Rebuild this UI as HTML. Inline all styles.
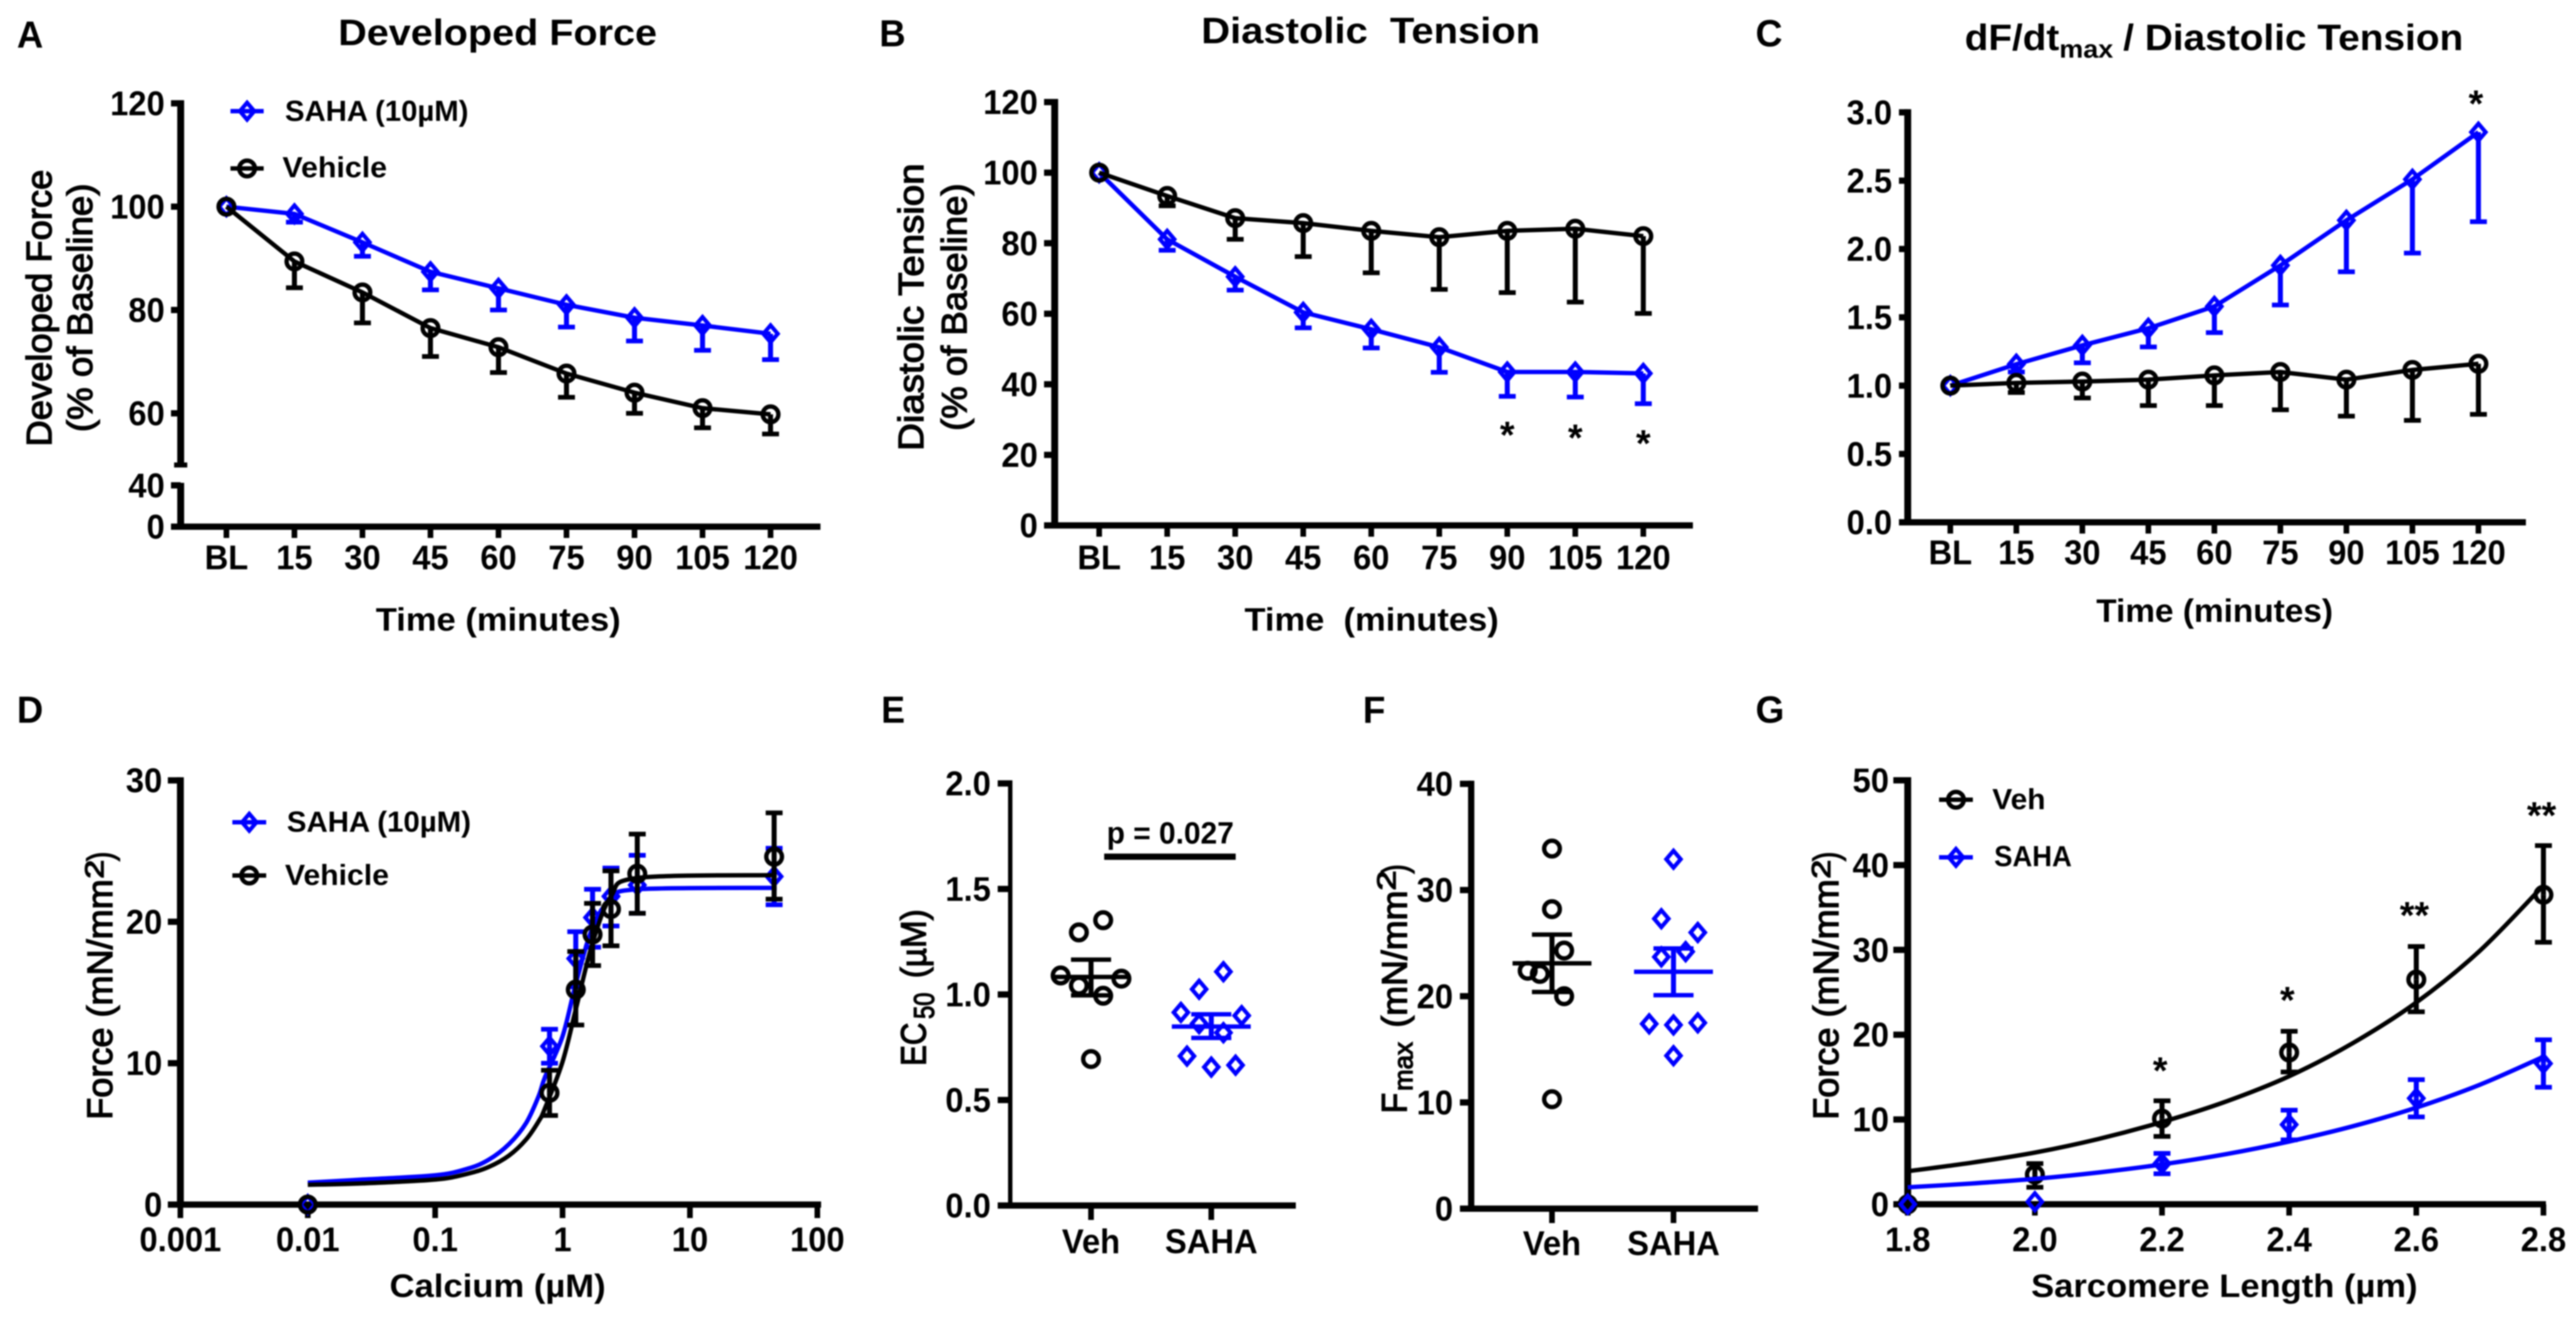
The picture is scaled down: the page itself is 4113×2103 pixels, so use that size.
<!DOCTYPE html>
<html lang="en">
<head>
<meta charset="utf-8">
<title>SAHA contractility figure</title>
<style>
html,body{margin:0;padding:0;background:#fff;width:4113px;height:2103px;overflow:hidden}
svg{display:block;filter:blur(1px)}
text{font-family:"Liberation Sans",Arial,sans-serif;font-weight:700;fill:#000}
text.rot{font-weight:400;stroke:#000;stroke-width:1.8px}
</style>
</head>
<body>
<svg id="fig" xmlns="http://www.w3.org/2000/svg" width="4113" height="2103" viewBox="0 0 4113 2103">
<rect x="0" y="0" width="4113" height="2103" fill="#fff"/>

<!-- Panel letters -->
<text x="27" y="76" font-size="60" textLength="42" lengthAdjust="spacingAndGlyphs">A</text>
<text x="1404" y="74" font-size="60" textLength="42" lengthAdjust="spacingAndGlyphs">B</text>
<text x="2803" y="74" font-size="60" textLength="43" lengthAdjust="spacingAndGlyphs">C</text>
<text x="27" y="1154" font-size="60" textLength="42" lengthAdjust="spacingAndGlyphs">D</text>
<text x="1407" y="1154" font-size="60" textLength="38" lengthAdjust="spacingAndGlyphs">E</text>
<text x="2176" y="1154" font-size="60" textLength="36" lengthAdjust="spacingAndGlyphs">F</text>
<text x="2803" y="1154" font-size="60" textLength="46" lengthAdjust="spacingAndGlyphs">G</text>

<!-- Titles -->
<text x="540" y="72" font-size="58" textLength="509" lengthAdjust="spacingAndGlyphs">Developed Force</text>
<text x="1918" y="69" font-size="58" textLength="541" lengthAdjust="spacingAndGlyphs">Diastolic&#160; Tension</text>
<text x="3137" y="80" font-size="58" textLength="151" lengthAdjust="spacingAndGlyphs">dF/dt</text>
<text x="3288" y="92" font-size="40" textLength="86" lengthAdjust="spacingAndGlyphs">max</text>
<text x="3390" y="80" font-size="58" textLength="543" lengthAdjust="spacingAndGlyphs">/ Diastolic Tension</text>

<!-- Y axis titles -->
<text class="rot" transform="translate(82,713) rotate(-90)" font-size="57" textLength="442" lengthAdjust="spacingAndGlyphs">Developed Force</text>
<text class="rot" transform="translate(147,690) rotate(-90)" font-size="57" textLength="397" lengthAdjust="spacingAndGlyphs">(% of Baseline)</text>
<text class="rot" transform="translate(1474,720) rotate(-90)" font-size="57" textLength="459" lengthAdjust="spacingAndGlyphs">Diastolic Tension</text>
<text class="rot" transform="translate(1543,688) rotate(-90)" font-size="57" textLength="395" lengthAdjust="spacingAndGlyphs">(% of Baseline)</text>

<text class="rot" transform="translate(179,1788) rotate(-90)" font-size="57" textLength="384" lengthAdjust="spacingAndGlyphs">Force (mN/mm</text>
<text class="rot" transform="translate(165,1403) rotate(-90)" font-size="42" textLength="30" lengthAdjust="spacingAndGlyphs">2</text>
<text class="rot" transform="translate(179,1375) rotate(-90)" font-size="57" textLength="15" lengthAdjust="spacingAndGlyphs">)</text>

<text class="rot" transform="translate(1478,1702) rotate(-90)" font-size="57" textLength="69" lengthAdjust="spacingAndGlyphs">EC</text>
<text class="rot" transform="translate(1491,1627) rotate(-90)" font-size="45" textLength="42" lengthAdjust="spacingAndGlyphs">50</text>
<text class="rot" transform="translate(1478,1562) rotate(-90)" font-size="57" textLength="110" lengthAdjust="spacingAndGlyphs">(µM)</text>

<text class="rot" transform="translate(2246,1778) rotate(-90)" font-size="57" textLength="33" lengthAdjust="spacingAndGlyphs">F</text>
<text class="rot" transform="translate(2255,1742) rotate(-90)" font-size="42" textLength="78" lengthAdjust="spacingAndGlyphs">max</text>
<text class="rot" transform="translate(2246,1641) rotate(-90)" font-size="57" textLength="219" lengthAdjust="spacingAndGlyphs">(mN/mm</text>
<text class="rot" transform="translate(2228,1422) rotate(-90)" font-size="42" textLength="32" lengthAdjust="spacingAndGlyphs">2</text>
<text class="rot" transform="translate(2246,1395) rotate(-90)" font-size="57" textLength="15" lengthAdjust="spacingAndGlyphs">)</text>

<text class="rot" transform="translate(2935,1788) rotate(-90)" font-size="57" textLength="384" lengthAdjust="spacingAndGlyphs">Force (mN/mm</text>
<text class="rot" transform="translate(2922,1403) rotate(-90)" font-size="42" textLength="30" lengthAdjust="spacingAndGlyphs">2</text>
<text class="rot" transform="translate(2935,1375) rotate(-90)" font-size="57" textLength="15" lengthAdjust="spacingAndGlyphs">)</text>

<!-- X axis titles -->
<text x="600" y="1007" font-size="52" textLength="391" lengthAdjust="spacingAndGlyphs">Time (minutes)</text>
<text x="1987" y="1007" font-size="52" textLength="406" lengthAdjust="spacingAndGlyphs">Time&#160; (minutes)</text>
<text x="3347" y="993" font-size="52" textLength="378" lengthAdjust="spacingAndGlyphs">Time (minutes)</text>
<text x="622" y="2071" font-size="52" textLength="345" lengthAdjust="spacingAndGlyphs">Calcium (µM)</text>
<text x="3243" y="2071" font-size="52" textLength="617" lengthAdjust="spacingAndGlyphs">Sarcomere Length (µm)</text>

<!-- Legend text -->
<text x="455" y="193" font-size="46" textLength="293" lengthAdjust="spacingAndGlyphs">SAHA (10µM)</text>
<text x="451" y="283" font-size="46" textLength="167" lengthAdjust="spacingAndGlyphs">Vehicle</text>
<text x="458" y="1328" font-size="46" textLength="294" lengthAdjust="spacingAndGlyphs">SAHA (10µM)</text>
<text x="455" y="1413" font-size="46" textLength="166" lengthAdjust="spacingAndGlyphs">Vehicle</text>
<text x="3181" y="1292" font-size="46" textLength="85" lengthAdjust="spacingAndGlyphs">Veh</text>
<text x="3184" y="1383" font-size="46" textLength="124" lengthAdjust="spacingAndGlyphs">SAHA</text>

<!-- Significance annotation -->
<text x="1767" y="1347" font-size="49" textLength="203" lengthAdjust="spacingAndGlyphs">p = 0.027</text>
<rect x="1763" y="1363" width="210" height="10" fill="#000"/>

<g id="plots"></g>
</svg>

<script>
// ---------- Shared categories ----------
const timeLabels = ['BL','15','30','45','60','75','90','105','120'];
const scatterLabels = ['Veh','SAHA'];

// ---------- Panel A ----------
const aTicksUpper = [60,80,100,120];
const aTicksLower = [0,40];
const aSahaMean = [100,98.6,93.1,87.4,84.2,81,78.5,77,75.4];
const aSahaLow  = [100,97,90.4,83.9,80,76.7,74,72.2,70.4];
const aVehMean  = [100,89.4,83.4,76.5,72.8,67.7,64,61,59.8];
const aVehLow   = [100,84.3,77.5,71,67.9,63.1,60,57.2,56];

// ---------- Panel B ----------
const bTicks = [0,20,40,60,80,100,120];
const bSahaMean = [100,81.1,70.5,60.4,55.6,50.5,43.5,43.5,43.1];
const bSahaLow  = [100,78,66.7,56,50.3,43.4,36.6,36.4,34.5];
const bVehMean  = [100,93.4,87.1,85.7,83.5,81.7,83.5,84.1,82];
const bVehLow   = [100,90.6,81.1,76.2,71.6,66.9,66,63.3,60.1];
const bStarIndex = [6,7,8];
const bStarValue = [27.9,27.1,25.5];

// ---------- Panel C ----------
const cTicks = [0,0.5,1,1.5,2,2.5,3];
const cSahaMean = [1,1.157,1.295,1.42,1.58,1.88,2.21,2.51,2.855];
const cSahaLow  = [1,1.1,1.167,1.283,1.388,1.59,1.833,1.97,2.2];
const cVehMean  = [1,1.02,1.03,1.044,1.075,1.1,1.044,1.115,1.16];
const cVehLow   = [1,0.95,0.91,0.854,0.854,0.823,0.777,0.746,0.79];
const cStarIndex = [8];
const cStarValue = [3.12];

// ---------- Panel D ----------
const dTicksY = [0,10,20,30];
const dTicksX = [0.001,0.01,0.1,1,10,100];
const dTickLabelsX = ['0.001','0.01','0.1','1','10','100'];
const dCalcium  = [0.01,0.79,1.27,1.72,2.4,3.86,45.8];
const dSahaMean = [0,11.2,17.4,20.3,21.8,22.6,23.2];
const dSahaHigh = [0,12.4,19.3,22.3,23.8,24.7,25.2];
const dSahaLow  = [0,10,15.4,18.2,19.7,20.6,21.2];
const dVehMean  = [0,7.9,15.2,19.1,20.9,23.4,24.6];
const dVehHigh  = [0,9.5,17.9,21.3,23.6,26.2,27.7];
const dVehLow   = [0,6.3,12.7,16.9,18.3,20.6,21.6];
const dCurveCa   = [0.01,0.027,0.1,0.18,0.263,0.38,0.517,0.65,0.727,1,1.27,1.72,2.4,3.9,48];
const dCurveSaha = [1.55,1.77,2.07,2.54,3.17,4.28,5.76,7.68,9,11.9,15.6,19.6,21.6,22.3,22.4];
const dCurveVeh  = [1.4,1.5,1.77,2.18,2.66,3.47,4.6,5.9,6.8,10.1,13.8,18.5,21.8,23.1,23.3];

// ---------- Panel E ----------
const eTicks = [0,0.5,1,1.5,2];
const eVehValues  = [1.352,1.294,1.09,1.075,1.042,0.994,0.694];
const eVehSlots   = [1,-1,-2.5,2.5,-1,1,0];
const eVehSummary = [1.083,1.165,0.996];
const eSahaValues = [1.108,1.025,0.915,0.9,0.862,0.819,0.708,0.656,0.665];
const eSahaSlots  = [1,-1,-2.5,2.5,-1,1,-2,0,2];
const eSahaSummary = [0.848,0.906,0.794];

// ---------- Panel F ----------
const fTicks = [0,10,20,30,40];
const fVehValues  = [33.9,28.2,24.3,22.4,22.1,20,10.3];
const fVehSlots   = [0,0,1,-2,-1,1,0];
const fVehSummary = [23.1,25.8,20.4];
const fSahaValues = [32.9,27.3,26,24.2,23.7,17.4,17.3,17.5,14.4];
const fSahaSlots  = [0,-1,2,1,-1,-2,0,2,0];
const fSahaSummary = [22.3,24.5,20.1];

// ---------- Panel G ----------
const gTicksY = [0,10,20,30,40,50];
const gTicksX = [1.8,2,2.2,2.4,2.6,2.8];
const gTickLabelsX = ['1.8','2.0','2.2','2.4','2.6','2.8'];
const gLength   = [1.8,2,2.2,2.4,2.6,2.8];
const gVehMean  = [0,3.5,10.1,17.9,26.5,36.5];
const gVehHigh  = [0,4.8,12.2,20.4,30.4,42.3];
const gVehLow   = [0,2,8,15.6,22.7,30.9];
const gSahaMean = [0,0.3,4.8,9.4,12.5,16.6];
const gSahaHigh = [0,0.3,6,11.1,14.7,19.4];
const gSahaLow  = [0,0.3,3.6,7.6,10.3,13.8];
const gCurveLen  = [1.8,1.9,2,2.1,2.2,2.3,2.4,2.5,2.6,2.7,2.8];
const gCurveVeh  = [3.9,4.9,6.1,7.7,9.7,12.1,15.1,19,23.8,29.9,37.6];
const gCurveSaha = [2,2.45,3,3.75,4.7,5.9,7.4,9.2,11.4,14.1,17.4];
const gStarLen   = [2.2,2.4,2.6,2.8];
const gStarValue = [16.7,25,35,46.8];
const gStarLabel = ['*','*','**','**'];

// ---------- Helpers ----------
const NS = 'http://www.w3.org/2000/svg';
const BLUE = '#0000ff';
const BLACK = '#000000';
const plots = document.getElementById('plots');

function add(parent, tag, attrs, name) {
  const el = document.createElementNS(NS, tag);
  for (const k in attrs) el.setAttribute(k, attrs[k]);
  
  
  parent.appendChild(el);
  return el;
}
function seg(parent, x1, y1, x2, y2, color, w, name) {
  return add(parent, 'line', {x1, y1, x2, y2, stroke: color, 'stroke-width': w}, name);
}
function label(parent, x, y, str, anchor, name) {
  const t = add(parent, 'text', {transform: 'translate(' + x + ',' + y + ') scale(0.95,1)', 'font-size': 55, 'text-anchor': anchor}, name);
  t.textContent = str;
  return t;
}
function marker(parent, kind, x, y, color, name) {
  if (kind === 'circle') {
    return add(parent, 'circle', {cx: x, cy: y, r: 12.5, fill: 'none', stroke: color, 'stroke-width': 7}, name);
  }
  const p = (x - 11.5) + ',' + y + ' ' + x + ',' + (y - 13.5) + ' ' + (x + 11.5) + ',' + y + ' ' + x + ',' + (y + 13.5);
  return add(parent, 'polygon', {points: p, fill: 'none', stroke: color, 'stroke-width': 6.5}, name);
}
function errorBar(parent, x, yFrom, yTo, color, name) {
  seg(parent, x, yFrom, x, yTo, color, 8, name + '-stem');
  seg(parent, x - 13.5, yTo, x + 13.5, yTo, color, 7.5, name + '-cap');
}
function smooth(parent, pts, color, name) {
  let d = 'M' + pts[0][0] + ' ' + pts[0][1];
  for (let i = 0; i < pts.length - 1; i++) {
    const p0 = pts[Math.max(i - 1, 0)], p1 = pts[i], p2 = pts[i + 1], p3 = pts[Math.min(i + 2, pts.length - 1)];
    const c1x = p1[0] + (p2[0] - p0[0]) / 6, c1y = p1[1] + (p2[1] - p0[1]) / 6;
    const c2x = p2[0] - (p3[0] - p1[0]) / 6, c2y = p2[1] - (p3[1] - p1[1]) / 6;
    d += ' C' + c1x + ' ' + c1y + ' ' + c2x + ' ' + c2y + ' ' + p2[0] + ' ' + p2[1];
  }
  return add(parent, 'path', {d, fill: 'none', stroke: color, 'stroke-width': 7}, name);
}
function star(parent, x, yCenter, str, name) {
  const t = add(parent, 'text', {x: x, y: yCenter + 33, 'font-size': 60, 'text-anchor': 'middle'}, name);
  t.textContent = str;
}
function legendEntry(parent, x1, x2, y, kind, color, name) {
  seg(parent, x1, y, x2, y, color, 7, name + '-line');
  marker(parent, kind, (x1 + x2) / 2, y, color, name + '-marker');
}

function yAxis(g, axisX, tickLeft, labelRight, ticks, yf, fmt, topV, botY, name, axisW) {
  seg(g, axisX, yf(topV) - 5, axisX, botY + 5, BLACK, axisW || 11, name + '-line');
  ticks.forEach(function (v) {
    seg(g, tickLeft, yf(v), axisX, yf(v), BLACK, 10, name + '-tick');
    label(g, labelRight, yf(v) + 19, fmt(v), 'end', name + '-tick-label');
  });
}
function xAxisBase(g, x1, x2, y, name) {
  seg(g, x1, y, x2, y, BLACK, 10, name + '-line');
}

// Time-course panels (one-sided error bars)
function timeSeries(g, xf, yf, mean, low, color, kind, name) {
  const sg = add(g, 'g', {}, name);
  const pts = mean.map(function (v, i) { return xf(i) + ',' + yf(v); }).join(' ');
  mean.forEach(function (v, i) {
    if (low[i] !== v) errorBar(sg, xf(i), yf(v), yf(low[i]), color, name + '-error-bar');
  });
  add(sg, 'polyline', {points: pts, fill: 'none', stroke: color, 'stroke-width': 7}, name + '-line');
  mean.forEach(function (v, i) {
    marker(sg, kind, xf(i), yf(v), color, name + '-point');
  });
}
function xCategoryAxis(g, xf, labels, y, labelY, name) {
  labels.forEach(function (s, i) {
    seg(g, xf(i), y, xf(i), y + 18, BLACK, 9, name + '-tick');
    label(g, xf(i), labelY, s, 'middle', name + '-tick-label');
  });
}

// ---------- Draw A ----------
(function () {
  const g = add(plots, 'g', {}, 'chart-a-developed-force');
  const xf = function (i) { return 361.5 + i * 108.6; };
  const yf = function (v) { return v >= 50 ? 330 + (100 - v) * 8.25 : 841 - v * 1.65; };
  const axisX = 288.5;
  seg(g, axisX, yf(120) - 5, axisX, yf(50), BLACK, 11, 'y-axis-a-upper-line');
  seg(g, axisX, yf(40) - 4, axisX, 841, BLACK, 11, 'y-axis-a-lower-line');
  seg(g, 278, yf(50), 299, yf(50), BLACK, 8, 'y-axis-a-break-cap');
  aTicksUpper.concat(aTicksLower).forEach(function (v) {
    seg(g, 273, yf(v), axisX, yf(v), BLACK, 10, 'y-axis-a-tick');
    label(g, 263, yf(v) + 19, String(v), 'end', 'y-axis-a-tick-label');
  });
  xAxisBase(g, 273, 1310, 841, 'x-axis-a');
  xCategoryAxis(g, xf, timeLabels, 841, 909, 'x-axis-a');
  timeSeries(g, xf, yf, aSahaMean, aSahaLow, BLUE, 'diamond', 'series-a-saha');
  timeSeries(g, xf, yf, aVehMean, aVehLow, BLACK, 'circle', 'series-a-vehicle');
  legendEntry(g, 368, 421, 177.5, 'diamond', BLUE, 'legend-a-saha');
  legendEntry(g, 368, 421, 269, 'circle', BLACK, 'legend-a-vehicle');
})();

// ---------- Draw B ----------
(function () {
  const g = add(plots, 'g', {}, 'chart-b-diastolic-tension');
  const xf = function (i) { return 1755 + i * 108.6; };
  const yf = function (v) { return 839 - v * 5.633; };
  yAxis(g, 1684, 1667, 1657, bTicks, yf, String, 120, 839, 'y-axis-b');
  xAxisBase(g, 1667, 2703, 839, 'x-axis-b');
  xCategoryAxis(g, xf, timeLabels, 839, 909, 'x-axis-b');
  timeSeries(g, xf, yf, bSahaMean, bSahaLow, BLUE, 'diamond', 'series-b-saha');
  timeSeries(g, xf, yf, bVehMean, bVehLow, BLACK, 'circle', 'series-b-vehicle');
  bStarIndex.forEach(function (idx, k) {
    star(g, xf(idx), yf(bStarValue[k]), '*', 'significance-star-b');
  });
})();

// ---------- Draw C ----------
(function () {
  const g = add(plots, 'g', {}, 'chart-c-dfdt-ratio');
  const xf = function (i) { return 3114 + i * 105.4; };
  const yf = function (v) { return 834 - v * 218.2; };
  yAxis(g, 3046, 3032, 3021, cTicks, yf, function (v) { return v.toFixed(1); }, 3, 834, 'y-axis-c');
  xAxisBase(g, 3032, 4033, 834, 'x-axis-c');
  xCategoryAxis(g, xf, timeLabels, 834, 901, 'x-axis-c');
  timeSeries(g, xf, yf, cSahaMean, cSahaLow, BLUE, 'diamond', 'series-c-saha');
  timeSeries(g, xf, yf, cVehMean, cVehLow, BLACK, 'circle', 'series-c-vehicle');
  cStarIndex.forEach(function (idx, k) {
    star(g, xf(idx) - 4, yf(cStarValue[k]), '*', 'significance-star-c');
  });
})();

// ---------- Draw D ----------
(function () {
  const g = add(plots, 'g', {}, 'chart-d-calcium-response');
  const xf = function (c) { return 288 + (Math.log10(c) + 3) * 203.4; };
  const yf = function (v) { return 1923.5 - v * 22.58; };
  yAxis(g, 288, 268, 259, dTicksY, yf, String, 30, 1923.5, 'y-axis-d');
  xAxisBase(g, 282, 1311, 1923.5, 'x-axis-d');
  dTicksX.forEach(function (c, i) {
    seg(g, xf(c), 1923.5, xf(c), 1945, BLACK, 9, 'x-axis-d-tick');
    label(g, xf(c), 1998, dTickLabelsX[i], 'middle', 'x-axis-d-tick-label');
  });
  function series(mean, high, low, curve, color, kind, name) {
    const sg = add(g, 'g', {}, name);
    smooth(sg, dCurveCa.map(function (c, i) { return [xf(c), yf(curve[i])]; }), color, name + '-fit-curve');
    dCalcium.forEach(function (c, i) {
      if (high[i] !== low[i]) {
        errorBar(sg, xf(c), yf(mean[i]), yf(high[i]), color, name + '-error-bar-upper');
        errorBar(sg, xf(c), yf(mean[i]), yf(low[i]), color, name + '-error-bar-lower');
      }
      marker(sg, kind, xf(c), yf(mean[i]), color, name + '-point');
    });
  }
  series(dSahaMean, dSahaHigh, dSahaLow, dCurveSaha, BLUE, 'diamond', 'series-d-saha');
  series(dVehMean, dVehHigh, dVehLow, dCurveVeh, BLACK, 'circle', 'series-d-vehicle');
  legendEntry(g, 371, 425, 1313, 'diamond', BLUE, 'legend-d-saha');
  legendEntry(g, 371, 425, 1398, 'circle', BLACK, 'legend-d-vehicle');
})();

// ---------- Scatter panels E & F ----------
function scatterPanel(cfg) {
  const g = add(plots, 'g', {}, cfg.name);
  yAxis(g, cfg.axisX, cfg.tickLeft, cfg.labelRight, cfg.ticks, cfg.yf, cfg.fmt, cfg.top, cfg.baseY, cfg.short + '-y-axis', cfg.axisW);
  xAxisBase(g, cfg.tickLeft, cfg.axisEnd, cfg.baseY, cfg.short + '-x-axis');
  scatterLabels.forEach(function (s, i) {
    seg(g, cfg.xs[i], cfg.baseY, cfg.xs[i], cfg.baseY + 23, BLACK, 9, cfg.short + '-x-axis-tick');
    label(g, cfg.xs[i], cfg.labelY, s, 'middle', cfg.short + '-x-axis-tick-label');
  });
  function group(xc, values, slots, summary, color, kind, name) {
    const sg = add(g, 'g', {}, name);
    values.forEach(function (v, i) {
      marker(sg, kind, xc + slots[i] * 19.4, cfg.yf(v), color, name + '-point');
    });
    seg(sg, xc - 63, cfg.yf(summary[0]), xc + 63, cfg.yf(summary[0]), color, 7, name + '-mean-line');
    seg(sg, xc, cfg.yf(summary[1]), xc, cfg.yf(summary[2]), color, 8, name + '-sem-stem');
    seg(sg, xc - 32, cfg.yf(summary[1]), xc + 32, cfg.yf(summary[1]), color, 7, name + '-sem-cap-upper');
    seg(sg, xc - 32, cfg.yf(summary[2]), xc + 32, cfg.yf(summary[2]), color, 7, name + '-sem-cap-lower');
  }
  group(cfg.xs[0], cfg.veh, cfg.vehSlots, cfg.vehSummary, BLACK, 'circle', cfg.short + '-veh');
  group(cfg.xs[1], cfg.saha, cfg.sahaSlots, cfg.sahaSummary, BLUE, 'diamond', cfg.short + '-saha');
}
scatterPanel({
  name: 'chart-e-ec50', short: 'e', axisX: 1613, axisW: 7, tickLeft: 1593, labelRight: 1582, axisEnd: 2069, baseY: 1925, labelY: 2001,
  ticks: eTicks, top: 2, xs: [1742, 1934],
  yf: function (v) { return 1925 - v * 337; },
  fmt: function (v) { return v.toFixed(1); },
  veh: eVehValues, vehSlots: eVehSlots, vehSummary: eVehSummary,
  saha: eSahaValues, sahaSlots: eSahaSlots, sahaSummary: eSahaSummary
});
scatterPanel({
  name: 'chart-f-fmax', short: 'f', axisX: 2349, axisW: 10, tickLeft: 2331, labelRight: 2320, axisEnd: 2807, baseY: 1930, labelY: 2004,
  ticks: fTicks, top: 40, xs: [2478, 2672],
  yf: function (v) { return 1930 - v * 16.96; },
  fmt: String,
  veh: fVehValues, vehSlots: fVehSlots, vehSummary: fVehSummary,
  saha: fSahaValues, sahaSlots: fSahaSlots, sahaSummary: fSahaSummary
});

// ---------- Draw G ----------
(function () {
  const g = add(plots, 'g', {}, 'chart-g-sarcomere-length');
  const xf = function (l) { return 3046 + (l - 1.8) * 1015; };
  const yf = function (v) { return 1923 - v * 13.54; };
  yAxis(g, 3046, 3023, 3016, gTicksY, yf, String, 50, 1923, 'y-axis-g');
  xAxisBase(g, 3023, 4065, 1923, 'x-axis-g');
  gTicksX.forEach(function (l, i) {
    seg(g, xf(l), 1923, xf(l), 1941, BLACK, 9, 'x-axis-g-tick');
    label(g, xf(l), 1998, gTickLabelsX[i], 'middle', 'x-axis-g-tick-label');
  });
  function series(mean, high, low, curve, color, kind, name) {
    const sg = add(g, 'g', {}, name);
    smooth(sg, gCurveLen.map(function (l, i) { return [xf(l), yf(curve[i])]; }), color, name + '-fit-curve');
    gLength.forEach(function (l, i) {
      if (high[i] !== low[i]) {
        errorBar(sg, xf(l), yf(mean[i]), yf(high[i]), color, name + '-error-bar-upper');
        errorBar(sg, xf(l), yf(mean[i]), yf(low[i]), color, name + '-error-bar-lower');
      }
      marker(sg, kind, xf(l), yf(mean[i]), color, name + '-point');
    });
  }
  series(gVehMean, gVehHigh, gVehLow, gCurveVeh, BLACK, 'circle', 'series-g-veh');
  series(gSahaMean, gSahaHigh, gSahaLow, gCurveSaha, BLUE, 'diamond', 'series-g-saha');
  gStarLen.forEach(function (l, k) {
    star(g, xf(l) - 3, yf(gStarValue[k]), gStarLabel[k], 'significance-star-g');
  });
  legendEntry(g, 3096, 3150, 1277, 'circle', BLACK, 'legend-g-veh');
  legendEntry(g, 3096, 3150, 1369, 'diamond', BLUE, 'legend-g-saha');
})();
</script>
</body>
</html>
